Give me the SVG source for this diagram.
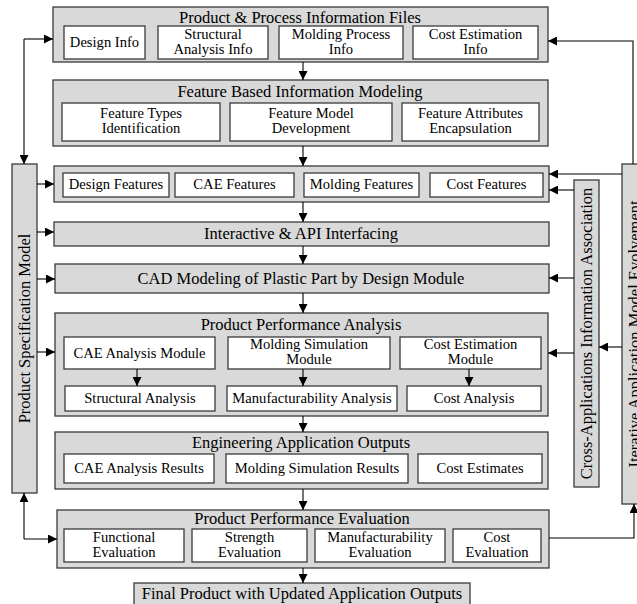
<svg xmlns="http://www.w3.org/2000/svg" width="637" height="604" viewBox="0 0 637 604">
<defs>
<marker id="ah" viewBox="0 0 10 10" refX="10" refY="5" markerWidth="9" markerHeight="9" markerUnits="userSpaceOnUse" orient="auto">
<path d="M0,0 L10,5 L0,10 Z" fill="#000"/>
</marker>
</defs>
<style>
.g{fill:#d9d9d9;stroke:#3a3a3a;stroke-width:1.3}
.w{fill:#fff;stroke:#3a3a3a;stroke-width:1.3}
text{fill:#000;text-anchor:middle}
.t{font-size:16.5px}
.s{font-size:14.6px}
.c path{fill:none;stroke:#000;stroke-width:1.1;marker-end:url(#ah)}
</style>
<rect width="637" height="604" fill="#fff"/>
<g font-family="Liberation Serif, DejaVu Serif, serif">

<g id="info-files">
<rect class="g" x="53" y="7" width="495" height="55"/>
<text class="t" x="300" y="23">Product &amp; Process Information Files</text>
<rect class="w" x="64" y="26" width="81" height="33"/>
<text class="s" x="104.5" y="47">Design Info</text>
<rect class="w" x="158" y="26" width="110" height="33"/>
<text class="s" x="213" y="39">Structural</text>
<text class="s" x="213" y="54">Analysis Info</text>
<rect class="w" x="279" y="26" width="124" height="33"/>
<text class="s" x="341" y="39">Molding Process</text>
<text class="s" x="341" y="54">Info</text>
<rect class="w" x="413" y="26" width="125" height="33"/>
<text class="s" x="475.5" y="39">Cost Estimation</text>
<text class="s" x="475.5" y="54">Info</text>
</g>

<g id="feature-modeling">
<rect class="g" x="53" y="80" width="495" height="66"/>
<text class="t" x="300" y="97">Feature Based Information Modeling</text>
<rect class="w" x="62" y="103" width="158" height="38"/>
<text class="s" x="141" y="118">Feature Types</text>
<text class="s" x="141" y="133">Identification</text>
<rect class="w" x="230" y="103" width="162" height="38"/>
<text class="s" x="311" y="118">Feature Model</text>
<text class="s" x="311" y="133">Development</text>
<rect class="w" x="402" y="103" width="137" height="38"/>
<text class="s" x="470.5" y="118">Feature Attributes</text>
<text class="s" x="470.5" y="133">Encapsulation</text>
</g>

<g id="features">
<rect class="g" x="54" y="166" width="495" height="36"/>
<rect class="w" x="63" y="173" width="106" height="24"/>
<text class="s" x="116" y="189">Design Features</text>
<rect class="w" x="175" y="173" width="119" height="24"/>
<text class="s" x="234.5" y="189">CAE Features</text>
<rect class="w" x="304" y="173" width="115" height="24"/>
<text class="s" x="361.5" y="189">Molding Features</text>
<rect class="w" x="430" y="173" width="113" height="24"/>
<text class="s" x="486.5" y="189">Cost Features</text>
</g>

<g id="interfacing">
<rect class="g" x="54" y="222" width="495" height="24"/>
<text class="t" x="301" y="239">Interactive &amp; API Interfacing</text>
</g>

<g id="cad-modeling">
<rect class="g" x="55" y="264" width="494" height="29"/>
<text class="t" x="301" y="284">CAD Modeling of Plastic Part by Design Module</text>
</g>

<g id="performance-analysis">
<rect class="g" x="55" y="313" width="493" height="103"/>
<text class="t" x="301" y="330">Product Performance Analysis</text>
<rect class="w" x="64" y="337" width="151" height="32"/>
<text class="s" x="139.5" y="358">CAE Analysis Module</text>
<rect class="w" x="228" y="337" width="162" height="32"/>
<text class="s" x="309" y="349">Molding Simulation</text>
<text class="s" x="309" y="364">Module</text>
<rect class="w" x="400" y="337" width="141" height="32"/>
<text class="s" x="470.5" y="349">Cost Estimation</text>
<text class="s" x="470.5" y="364">Module</text>
<rect class="w" x="65" y="386" width="150" height="25"/>
<text class="s" x="140" y="403">Structural Analysis</text>
<rect class="w" x="227" y="386" width="170" height="25"/>
<text class="s" x="312" y="403">Manufacturability Analysis</text>
<rect class="w" x="407" y="386" width="134" height="25"/>
<text class="s" x="474" y="403">Cost Analysis</text>
</g>

<g id="application-outputs">
<rect class="g" x="55" y="432" width="493" height="57"/>
<text class="t" x="301" y="448">Engineering Application Outputs</text>
<rect class="w" x="64" y="454" width="150" height="29"/>
<text class="s" x="139" y="473">CAE Analysis Results</text>
<rect class="w" x="226" y="454" width="182" height="29"/>
<text class="s" x="317" y="473">Molding Simulation Results</text>
<rect class="w" x="418" y="454" width="124" height="29"/>
<text class="s" x="480" y="473">Cost Estimates</text>
</g>

<g id="performance-evaluation">
<rect class="g" x="57" y="510" width="492" height="58"/>
<text class="t" x="302" y="524">Product Performance Evaluation</text>
<rect class="w" x="64" y="529" width="120" height="33"/>
<text class="s" x="124" y="542">Functional</text>
<text class="s" x="124" y="557">Evaluation</text>
<rect class="w" x="192" y="529" width="115" height="33"/>
<text class="s" x="249.5" y="542">Strength</text>
<text class="s" x="249.5" y="557">Evaluation</text>
<rect class="w" x="315" y="529" width="130" height="33"/>
<text class="s" x="380" y="542">Manufacturability</text>
<text class="s" x="380" y="557">Evaluation</text>
<rect class="w" x="453" y="529" width="88" height="33"/>
<text class="s" x="497" y="542">Cost</text>
<text class="s" x="497" y="557">Evaluation</text>
</g>

<g id="final-product">
<rect class="g" x="134" y="583" width="336" height="25"/>
<text class="t" x="302" y="599">Final Product with Updated Application Outputs</text>
</g>

<g id="spec-model">
<rect class="g" x="12" y="164" width="25" height="329"/>
<text class="t" transform="translate(30,328.5) rotate(-90)">Product Specification Model</text>
</g>

<g id="cross-association">
<rect class="g" x="574" y="180" width="25" height="307"/>
<text class="t" transform="translate(592,333.5) rotate(-90)">Cross-Applications Information Association</text>
</g>

<g id="iterative-evolvement">
<rect class="g" x="622" y="164" width="25" height="340"/>
<text class="t" transform="translate(640,334) rotate(-90)">Iterative Application Model Evolvement</text>
</g>

</g>

<g id="connectors" class="c">
<path d="M303,62 V80"/>
<path d="M303,146 V166"/>
<path d="M303,202 V222"/>
<path d="M303,246 V264"/>
<path d="M303,293 V313"/>
<path d="M303,416 V432"/>
<path d="M303,489 V510"/>
<path d="M303,568 V583"/>
<path d="M137,369 V386"/>
<path d="M303,369 V386"/>
<path d="M469,369 V386"/>
<path d="M24,39 H53"/>
<path d="M24,39 V164"/>
<path d="M24,539 H57"/>
<path d="M24,539 V493"/>
<path d="M37,184 H54"/>
<path d="M37,232 H54"/>
<path d="M37,279 H55"/>
<path d="M37,352 H55"/>
<path d="M549,538 H634 V504"/>
<path d="M633,164 V41 H548"/>
<path d="M622,174 H549"/>
<path d="M622,347 H599"/>
<path d="M574,190 H549"/>
<path d="M574,278 H549"/>
<path d="M574,353 H548"/>
</g>
</svg>
